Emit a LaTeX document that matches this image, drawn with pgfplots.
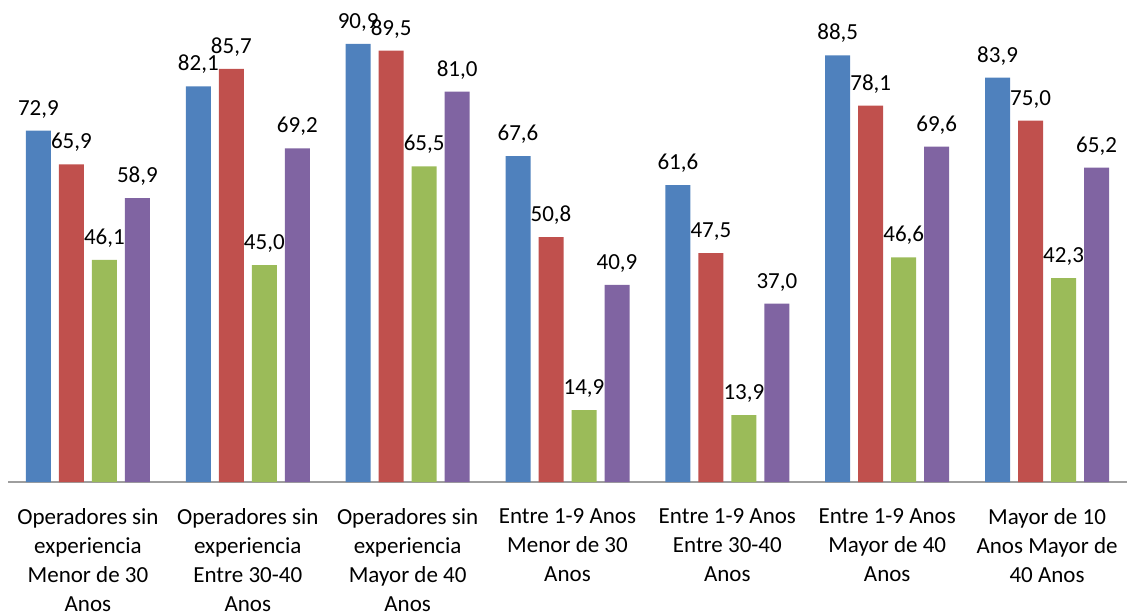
\documentclass[border=0pt]{standalone}
\usepackage{pgfplots}
\pgfplotsset{compat=1.18}
\usepackage{fontspec}
\setmainfont{Carlito}
\definecolor{xblue}{HTML}{4F81BD}
\definecolor{xred}{HTML}{C0504D}
\definecolor{xgreen}{HTML}{9BBB59}
\definecolor{xpurple}{HTML}{8064A2}
\begin{document}
\begin{tikzpicture}
\begin{axis}[
    scale only axis, width=1119pt, height=482pt,
    ybar=8pt, bar width=25pt,
    xmin=-0.5, xmax=6.5, ymin=0, ymax=100,
    axis x line*=bottom, axis y line=none,
    x axis line style={draw=black!38, line width=1.5pt},
    xtick={0,...,6}, major tick length=0pt,
    xticklabels={{Operadores sin\\experiencia\\Menor de 30\\Anos},
                 {Operadores sin\\experiencia\\Entre 30-40\\Anos},
                 {Operadores sin\\experiencia\\Mayor de 40\\Anos},
                 {Entre 1-9 Anos\\Menor de 30\\Anos},
                 {Entre 1-9 Anos\\Entre 30-40\\Anos},
                 {Entre 1-9 Anos\\Mayor de 40\\Anos},
                 {Mayor de 10\\Anos Mayor de\\40 Anos}},
    xticklabel style={align=center, font=\fontsize{23}{29}\selectfont, anchor=north, yshift=-23pt},
    nodes near coords,
    every node near coord/.append style={font=\fontsize{23}{26}\selectfont, black, yshift=9pt},
    /pgf/number format/.cd, use comma, fixed, fixed zerofill, precision=1, assume math mode=true,
]
\addplot[fill=xblue, draw=none] coordinates {(0,72.9) (1,82.1) (2,90.9) (3,67.6) (4,61.6) (5,88.5) (6,83.9)};
\addplot[fill=xred, draw=none] coordinates {(0,65.9) (1,85.7) (2,89.5) (3,50.8) (4,47.5) (5,78.1) (6,75.0)};
\addplot[fill=xgreen, draw=none] coordinates {(0,46.1) (1,45.0) (2,65.5) (3,14.9) (4,13.9) (5,46.6) (6,42.3)};
\addplot[fill=xpurple, draw=none] coordinates {(0,58.9) (1,69.2) (2,81.0) (3,40.9) (4,37.0) (5,69.6) (6,65.2)};
\coordinate (sw) at (rel axis cs:0,0);
\coordinate (ne) at (rel axis cs:1,1);
\end{axis}
\pgfresetboundingbox
\path (sw) ++(-8pt,-131pt) rectangle (ne);
\end{tikzpicture}
\end{document}
